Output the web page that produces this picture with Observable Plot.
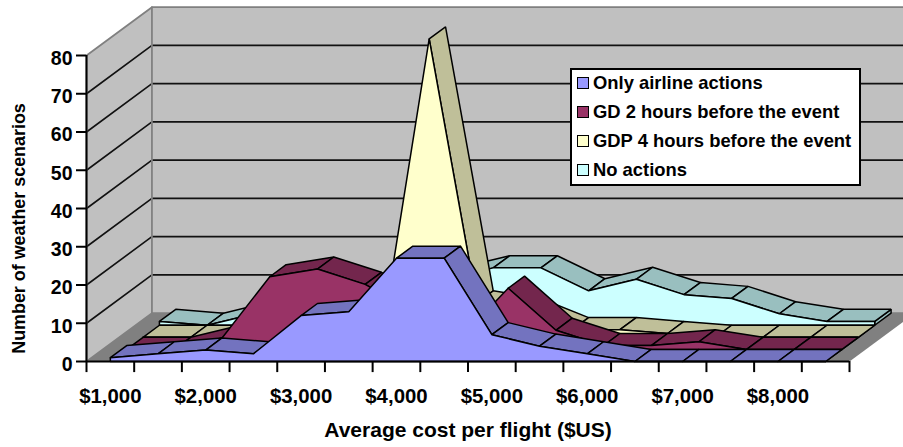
<!DOCTYPE html>
<html>
<head>
<meta charset="utf-8">
<script src="https://cdn.jsdelivr.net/npm/d3@7"></script>
<script src="https://cdn.jsdelivr.net/npm/@observablehq/plot@0.6"></script>
<style>
html,body{margin:0;padding:0;background:#fff;overflow:hidden}
#wrap{position:relative;width:903px;height:447px;font-family:"Liberation Sans",Arial,sans-serif}
#legend{position:absolute;left:570px;top:68px;width:287px;height:114px;border:2px solid #000;background:#fff;font-weight:bold;font-size:18.4px;color:#000}
#legend div{position:absolute;left:5px;white-space:nowrap;line-height:18px}
#legend i{display:inline-block;width:10px;height:10px;border:1.5px solid #000;margin-right:4px;vertical-align:0}
</style>
</head>
<body>
<div id="wrap"></div>
<script>
const categories = [1000,1500,2000,2500,3000,3500,4000,4500,5000,5500,6000,6500,7000,7500,8000,8500];
const onlyAirline = [1,2,3,2,12,13,27,27,7,4,2,0,0,0,0,0];
const gd2Hours    = [0,0,3,19,21,17,10,3,16,5,1,1,2,0,0,0];
const gdp4Hours   = [0,0,0,0,0,0,78,9,7,2,2,1,0,0,0,0];
const noActions   = [1,0,3,5,8,10,12,15,15,9,12,8,7,3,1,1];
const seriesNames = ["Only airline actions","GD 2 hours before the event","GDP 4 hours before the event","No actions"];
const faceColors  = ["#9999FF","#993366","#FFFFCC","#CCFFFF"];
const topColors   = ["#7373BF","#73264D","#BFBF99","#99BFBF"];
const yTicks = [0,10,20,30,40,50,60,70,80];
const xLabels = ["$1,000","$2,000","$3,000","$4,000","$5,000","$6,000","$7,000","$8,000"];

const seriesValues = [onlyAirline, gd2Hours, gdp4Hours, noActions];
const n = categories.length, left = -0.5, right = n - 0.5;
const skewX = 0.343, skewY = 3.16, depths = seriesValues.length;
const P = (i, v, d) => ({x: i + d * skewX, y: v + d * skewY});
const poly = (id, pts) => [...pts, pts[0]].map(p => ({id, ...p}));

const lineOf = (rows, fill, stroke, strokeWidth) =>
  Plot.line(rows, {x:"x", y:"y", z:"id", fill, stroke, strokeWidth, curve:"linear", strokeLinejoin:"miter"});

const wallLeft = poly("wl",[P(left,0,0),P(left,80,0),P(left,80,depths),P(left,0,depths)]);
const wallBack = poly("wb",[P(left,0,depths),P(left,80,depths),P(right,80,depths),P(right,0,depths)]);
const floor = poly("f",[P(left,0,0),P(right,0,0),P(right,0,depths),P(left,0,depths)]);
const grid = yTicks.slice(1,-1).flatMap(v => [P(left,v,0),P(left,v,depths),P(right,v,depths)].map(p => ({id:v,...p})));
const wallEdge = [P(left,0,0),P(left,80,0),P(left,80,depths),P(right,80,depths)].map(p=>({id:"t",...p}))
  .concat([P(left,80,depths),P(left,0,depths)].map(p=>({id:"b",...p})))
  .concat([P(left,0,0),P(left,0,depths),P(right,0,depths)].map(p=>({id:"c",...p})));

const seriesMarks = d3.range(depths-1,-1,-1).flatMap(d => {
  const vals = seriesValues[d];
  const quads = [];
  for (let i = 0; i < n-1; i++) {
    if (vals[i+1]-vals[i] < skewY/skewX)
      quads.push(...poly("q"+i,[P(i,vals[i],d),P(i+1,vals[i+1],d),P(i+1,vals[i+1],d+1),P(i,vals[i],d+1)]));
  }
  const last = n-1;
  const cap = poly("cap",[P(last,0,d),P(last,vals[last],d),P(last,vals[last],d+1),P(last,0,d+1)]);
  const front = poly("front",[P(0,0,d),...vals.map((v,i)=>P(i,v,d)),P(last,0,d)]);
  return [lineOf(cap,topColors[d],"#000",1.5), lineOf(quads,topColors[d],"#000",1.5), lineOf(front,faceColors[d],"#000",1.5)];
});

const font = {fontFamily:'"Liberation Sans",Arial,sans-serif', fontWeight:"bold", fill:"#000"};
const plot = Plot.plot({
  width:903, height:447,
  marginLeft:86, marginRight:54, marginTop:55, marginBottom:86,
  x:{type:"linear", domain:[left,right]},
  y:{type:"linear", domain:[0,80]},
  style:{background:"#fff", fontFamily:font.fontFamily, color:"#000", overflow:"hidden"},
  marks:[
    lineOf(wallLeft,"#C0C0C0","none",0),
    lineOf(wallBack,"#C0C0C0","none",0),
    lineOf(floor,"#808080","none",0),
    lineOf(grid,"none","#111",1.6),
    lineOf(wallEdge,"none","#808080",1.8),
    ...seriesMarks,
    Plot.ruleX([left],{y1:0,y2:80,stroke:"#000",strokeWidth:2}),
    Plot.ruleY([0],{x1:left,x2:right,stroke:"#000",strokeWidth:2}),
    Plot.ruleY(yTicks,{x1:left-0.21,x2:left,stroke:"#000",strokeWidth:2}),
    Plot.ruleX(d3.range(left,right+1),{y1:-2.9,y2:0,stroke:"#000",strokeWidth:2}),
    Plot.axisY({ticks:yTicks,tickSize:0,tickPadding:14,dy:3,label:null,fontSize:19.5,fontWeight:"bold",fill:"#000"}),
    Plot.axisX({ticks:xLabels.map((_,k)=>k*2),tickSize:0,tickPadding:27,tickFormat:i=>xLabels[i/2],label:null,fontSize:20.4,fontWeight:"bold",fill:"#000"}),
    Plot.text(["Number of weather scenarios"],{frameAnchor:"left",textAnchor:"middle",dx:-67,dy:20,rotate:-90,fontSize:17.9,...font}),
    Plot.text(["Average cost per flight ($US)"],{frameAnchor:"bottom",dy:75,fontSize:21,...font})
  ]
});
const wrap = document.getElementById("wrap");
wrap.appendChild(plot);
const legend = document.createElement("div");
legend.id = "legend";
seriesNames.forEach((name,k)=>{
  const row = document.createElement("div");
  row.style.top = (4 + k*29) + "px";
  const sw = document.createElement("i");
  sw.style.background = faceColors[k];
  row.appendChild(sw);
  row.appendChild(document.createTextNode(name));
  legend.appendChild(row);
});
wrap.appendChild(legend);
</script>
</body>
</html>
